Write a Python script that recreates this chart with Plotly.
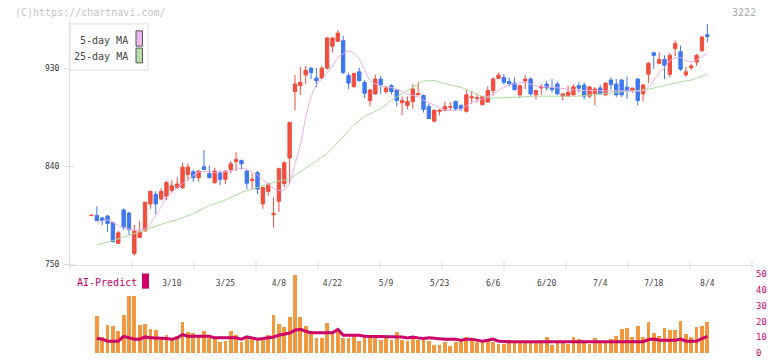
import plotly.graph_objects as go

# ---------------- data ----------------
tick_labels = ["3/10", "3/25", "4/8", "4/22", "5/9", "5/23", "6/6", "6/20", "7/4", "7/18", "8/4"]
tick_days = [15, 25, 35, 45, 55, 65, 75, 85, 95, 105, 115]
price_ticks = [750, 840, 930]
vol_ticks = [0, 10, 20, 30, 40, 50]

open_ = [795.0, 795.2, 792.8, 794.6, 788.5, 769.5, 800.2, 797.3, 760.0, 775.0,
         781.0, 805.7, 814.5, 810.2, 812.7, 818.0, 820.8, 820.8, 832.8, 835.3,
         829.8, 839.8, 833.5, 825.3, 834.4, 828.3, 837.3, 844.6, 845.5, 835.9,
         827.1, 834.4, 805.7, 817.2, 795.8, 808.1, 824.4, 847.9, 908.8, 914.2,
         924.2, 930.3, 921.2, 921.2, 930.3, 950.4, 954.9, 955.5, 923.6, 913.3,
         926.9, 917.3, 900.6, 906.7, 920.3, 908.8, 914.2, 910.3, 898.6, 896.1,
         899.7, 906.0, 905.2, 895.2, 881.7, 890.7, 891.6, 894.5, 899.7, 896.1,
         890.7, 903.0, 902.5, 896.8, 899.2, 909.7, 920.9, 921.8, 918.1, 916.6,
         905.8, 918.5, 920.3, 905.8, 912.2, 915.7, 912.2, 915.7, 904.6, 904.6,
         905.8, 914.2, 914.8, 904.6, 906.7, 912.2, 905.8, 919.4, 915.7, 919.4,
         912.8, 909.7, 920.3, 906.7, 924.8, 944.4, 934.7, 938.3, 924.8, 948.3,
         945.3, 924.2, 930.8, 935.9, 946.5, 961.0]
high = [795.6, 803.6, 794.0, 795.5, 789.5, 781.0, 801.5, 798.5, 786.4, 790.0,
        808.0, 818.0, 817.2, 820.2, 827.1, 827.4, 830.0, 843.4, 843.0, 837.1,
        836.5, 855.2, 840.7, 838.9, 836.4, 836.5, 845.0, 853.3, 846.4, 836.5,
        833.5, 835.9, 821.5, 825.3, 811.8, 839.0, 845.0, 881.0, 924.0, 931.4,
        932.3, 931.4, 930.8, 932.3, 959.0, 958.5, 965.5, 960.0, 926.3, 926.3,
        930.8, 919.4, 911.0, 924.2, 923.3, 914.2, 915.7, 911.0, 904.3, 904.3,
        915.7, 917.3, 906.0, 897.7, 892.5, 893.1, 899.7, 899.2, 900.6, 897.0,
        910.3, 909.7, 906.7, 905.0, 913.6, 922.0, 926.3, 924.8, 921.8, 921.8,
        915.0, 923.9, 922.0, 910.6, 915.7, 918.7, 920.3, 917.8, 907.0, 914.2,
        915.7, 917.3, 917.3, 913.6, 912.8, 915.0, 917.0, 921.8, 920.3, 920.3,
        922.7, 912.5, 921.0, 915.7, 935.9, 945.4, 944.9, 942.0, 944.4, 955.8,
        951.0, 931.4, 934.4, 943.5, 959.5, 970.9]
low = [794.6, 790.3, 786.0, 780.0, 770.2, 769.0, 782.2, 777.4, 758.4, 774.5,
       780.0, 801.2, 796.0, 809.0, 809.0, 816.0, 819.3, 819.3, 826.9, 826.0,
       826.2, 837.0, 829.0, 823.8, 822.9, 823.8, 833.7, 835.9, 837.3, 819.3,
       819.3, 814.7, 801.2, 813.3, 784.0, 798.2, 820.8, 824.4, 891.6, 905.7,
       915.7, 920.3, 912.7, 920.3, 929.0, 944.4, 954.3, 924.8, 911.2, 912.7,
       918.0, 902.8, 895.2, 906.0, 906.7, 906.7, 906.0, 895.2, 887.1, 892.5,
       893.1, 905.2, 889.5, 884.0, 880.2, 887.1, 891.0, 891.6, 891.6, 891.0,
       889.5, 897.7, 898.6, 896.1, 899.0, 905.2, 920.3, 915.1, 913.7, 909.7,
       902.8, 911.2, 905.2, 901.5, 905.8, 909.7, 908.0, 905.8, 900.6, 904.0,
       905.0, 908.0, 901.5, 903.0, 896.1, 905.8, 905.0, 910.6, 903.7, 903.7,
       902.0, 907.6, 896.1, 899.7, 916.6, 929.4, 933.8, 920.3, 921.8, 941.3,
       927.8, 922.3, 928.7, 932.3, 945.0, 954.0]
close = [795.3, 790.3, 790.6, 787.8, 771.1, 779.2, 784.0, 782.2, 781.0, 780.1,
         807.2, 817.2, 805.7, 817.2, 825.3, 822.3, 824.0, 839.5, 839.5, 829.8,
         835.9, 837.3, 829.8, 835.9, 828.3, 835.9, 842.5, 846.4, 842.5, 824.7,
         828.3, 819.3, 820.8, 823.8, 796.7, 838.0, 843.4, 880.5, 915.7, 917.3,
         928.4, 926.3, 918.7, 930.3, 958.0, 958.0, 962.5, 926.3, 916.6, 925.4,
         918.7, 907.3, 910.3, 920.3, 915.1, 912.2, 908.8, 900.6, 900.6, 899.7,
         911.2, 907.0, 892.5, 884.1, 891.6, 891.6, 895.2, 895.0, 893.1, 893.1,
         905.8, 904.0, 903.1, 904.3, 909.7, 920.3, 923.9, 917.3, 916.0, 910.6,
         914.2, 920.3, 906.7, 909.7, 913.1, 912.2, 910.6, 906.7, 906.7, 908.2,
         913.1, 911.9, 904.6, 913.1, 911.2, 906.7, 916.6, 915.1, 905.8, 905.8,
         909.7, 911.9, 900.6, 914.8, 934.7, 942.0, 938.3, 933.0, 942.0, 952.8,
         929.4, 926.9, 932.3, 942.0, 958.9, 959.4]

ma5_days = [1, 3, 5, 6, 8, 10, 11, 13, 14, 16, 17, 18, 20, 22, 23, 26, 28, 29, 31, 32,
            34, 35, 36, 37, 38, 39, 40, 41, 42, 43, 45, 46, 48, 49, 50, 51, 52, 54, 56, 58,
            59, 61, 62, 64, 66, 68, 69, 71, 73, 75, 77, 79, 81, 83, 84, 86, 91, 96, 100, 103,
            104, 105, 106, 107, 108, 109, 110, 111, 112, 113, 114, 115]
ma5_vals = [788, 791, 786, 784.5, 781.5, 783, 788, 803, 812, 820.5, 824.5, 828, 835, 835.5, 834.5, 836, 838.5, 837.5, 832, 828,
            820, 818, 818.5, 825, 842, 860, 885, 904, 915, 920, 932, 940, 946, 944, 938.5, 929, 919, 914, 912.5, 909,
            906.5, 904, 901, 896.5, 892, 891.5, 892.5, 899, 902, 906.7, 913, 916, 917, 914, 913.3, 912.8, 910, 909.5, 909.5, 909.5,
            913, 919, 926, 931, 937, 940, 940, 937, 936, 938, 941, 944]

ma25_days = [1, 4, 7, 10, 13, 16, 19, 22, 25, 28, 32, 35, 37, 39, 41, 43, 44, 46, 49, 51,
             54, 56, 58, 60, 61, 62, 64, 66, 69, 71, 73, 75, 78, 83, 91, 104, 107, 110, 112, 115]
ma25_vals = [768, 772, 777, 781.6, 787, 791.2, 796.7, 804.3, 809.3, 816.3, 822.3, 826.9, 828.3, 835, 842, 848, 852, 862, 878, 886,
             893, 901, 907, 913, 916, 918.5, 919, 916, 912.8, 908.2, 904.3, 902.8, 903.7, 904.6, 904.6, 911, 914.2, 917.9, 919.4, 924.8]

vol_days = list(range(1, 116))
volume = [23.1, 10.2, 17.5, 16.9, 13.8, 23.8, 35.8, 35.8, 17.5, 18.5,
          15.0, 14.4, 9.6, 11.3, 9.6, 10.6, 19.6, 12.9, 12.3, 11.3,
          13.8, 9.2, 9.2, 7.1, 7.5, 13.8, 11.3, 7.1, 9.2, 9.2,
          8.1, 9.2, 11.3, 23.8, 18.1, 16.5, 22.5, 49.4, 22.5, 16.9,
          13.8, 9.6, 9.6, 18.8, 13.3, 14.4, 9.6, 9.6, 10.6, 7.5,
          11.3, 11.3, 9.6, 8.1, 10.2, 8.1, 12.9, 8.1, 7.5, 9.6,
          8.1, 8.1, 7.5, 5.0, 5.0, 6.7, 4.6, 6.7, 8.1, 10.2,
          8.1, 6.7, 7.5, 8.1, 6.7, 5.6, 5.6, 8.1, 7.5, 7.5,
          7.5, 7.5, 7.5, 8.1, 10.2, 5.0, 7.1, 7.1, 5.6, 10.2,
          8.8, 7.5, 5.6, 9.2, 7.5, 7.5, 8.8, 10.8, 15.0, 15.8,
          10.2, 16.9, 10.2, 19.4, 12.7, 10.8, 15.8, 14.4, 14.4, 20.0,
          11.9, 10.2, 16.5, 17.1, 19.6]
ai_predict = [9.2, 8.8, 7.5, 7.5, 7.5, 10.6, 9.6, 8.8, 8.8, 10.2,
              9.6, 9.6, 9.6, 9.2, 8.8, 9.6, 11.7, 10.6, 10.6, 10.6,
              10.6, 10.6, 9.6, 9.6, 9.6, 9.6, 9.6, 8.8, 10.2, 9.6,
              8.8, 9.2, 9.6, 10.2, 11.3, 11.9, 12.7, 14.4, 15.0, 13.8,
              12.9, 12.9, 12.9, 12.9, 12.9, 15.0, 11.3, 11.3, 11.3, 11.3,
              10.6, 10.6, 10.6, 10.6, 10.6, 10.6, 10.6, 10.2, 9.6, 10.2,
              9.6, 9.2, 9.6, 9.2, 9.2, 8.8, 8.8, 8.8, 8.1, 8.8,
              8.8, 8.1, 7.5, 8.1, 8.8, 7.5, 7.1, 7.1, 7.1, 7.1,
              7.1, 7.1, 7.1, 7.1, 7.1, 7.1, 7.1, 7.1, 7.1, 7.1,
              7.1, 7.1, 7.1, 7.1, 7.1, 7.1, 7.1, 7.1, 7.1, 7.1,
              7.1, 7.1, 7.1, 8.5, 8.8, 8.1, 8.1, 8.1, 8.1, 8.8,
              7.5, 7.5, 7.5, 9.2, 10.6]

days = list(range(len(close)))

# ---------------- styling / layout helpers ----------------
W, H = 772, 361
ML, MR, MT, MB = 70, 20, 20, 3
PW, PH = W - ML - MR, H - MT - MB


def px(x):
    return (x - ML) / PW


def py(y):
    return (H - MB - y) / PH


UP, DOWN = "#f04e3e", "#3f78ee"
PINK, GREEN = "#e6aee6", "#addb9d"
ORANGE, CRIMSON = "#f2983e", "#cc0066"
MONO = "DejaVu Sans Mono"

fig = go.Figure()

fig.add_trace(go.Candlestick(
    x=days, open=open_, high=high, low=low, close=close,
    increasing=dict(line=dict(color=UP, width=1), fillcolor=UP),
    decreasing=dict(line=dict(color=DOWN, width=1), fillcolor=DOWN),
    whiskerwidth=0, showlegend=False, hoverinfo="skip",
    xaxis="x", yaxis="y"))

fig.add_trace(go.Scatter(x=ma25_days, y=ma25_vals, mode="lines",
                         line=dict(color=GREEN, width=1), showlegend=False,
                         xaxis="x", yaxis="y"))
fig.add_trace(go.Scatter(x=ma5_days, y=ma5_vals, mode="lines",
                         line=dict(color=PINK, width=1, shape="spline", smoothing=0.6),
                         showlegend=False, xaxis="x", yaxis="y"))

fig.add_trace(go.Bar(x=vol_days, y=volume, marker=dict(color=ORANGE, line=dict(width=0)),
                     width=0.7, showlegend=False, xaxis="x2", yaxis="y2"))
fig.add_trace(go.Scatter(x=vol_days, y=ai_predict, mode="lines",
                         line=dict(color=CRIMSON, width=3), showlegend=False,
                         xaxis="x2", yaxis="y2"))

xr = [(ML - 91.5) / 5.355, (W - MR - 91.5) / 5.355]

fig.update_layout(
    width=W, height=H,
    margin=dict(l=ML, r=MR, t=MT, b=MB),
    paper_bgcolor="white", plot_bgcolor="white",
    boxgap=0.1,
    bargap=0,
    font=dict(family=MONO, color="#444"),
    xaxis=dict(domain=[0, 1], range=xr, anchor="y", showgrid=False, zeroline=False,
               showline=True, linecolor="#dddddd", linewidth=1,
               tickmode="array", tickvals=tick_days, ticktext=tick_labels,
               ticks="", tickfont=dict(family=MONO, size=8, color="#444"),
               ticklabelstandoff=11,
               rangeslider=dict(visible=False), fixedrange=True),
    yaxis=dict(domain=[py(268.3), 1], range=[750, 750 + (268.3 - MT) / 1.106],
               showgrid=False, zeroline=False, showline=True, linecolor="#dddddd",
               tickmode="array", tickvals=price_ticks, ticks="outside",
               ticklen=5, tickcolor="#dddddd", ticklabelstandoff=3,
               tickfont=dict(family=MONO, size=8, color="#333")),
    xaxis2=dict(domain=[0, 1], range=xr, anchor="y2", matches="x", showgrid=False,
                zeroline=False, showline=False, showticklabels=False, ticks=""),
    yaxis2=dict(domain=[0, py(275)], range=[0, (H - MB - 275) / 1.6], side="right",
                anchor="x2", showgrid=False, zeroline=False, showline=False,
                tickmode="array", tickvals=vol_ticks, ticks="", ticklabelstandoff=3,
                tickfont=dict(family=MONO, size=9, color=CRIMSON)),
)

# axis separator tick marks
for k in range(12):
    fig.add_shape(type="line", xref="paper", yref="paper", x0=k / 11, x1=k / 11,
                  y0=py(264.5), y1=py(273), line=dict(color="#dddddd", width=1))
# inner part of price ticks (they cross the axis line)
for v in price_ticks:
    fig.add_shape(type="line", xref="paper", yref="y", x0=0, x1=px(74),
                  y0=v, y1=v, line=dict(color="#dddddd", width=1))

# legend box
fig.add_shape(type="rect", xref="paper", yref="paper", x0=px(70), x1=px(148),
              y0=py(71), y1=py(24), line=dict(color="#dddddd", width=1),
              fillcolor="white", layer="above")
fig.add_shape(type="rect", xref="paper", yref="paper", x0=px(136), x1=px(142.5),
              y0=py(46.5), y1=py(31), line=dict(color="#555555", width=1),
              fillcolor="#eab8ea", layer="above")
fig.add_shape(type="rect", xref="paper", yref="paper", x0=px(136), x1=px(142.5),
              y0=py(63.5), y1=py(48.5), line=dict(color="#555555", width=1),
              fillcolor="#b8dcaa", layer="above")
fig.add_annotation(text="5-day MA", xref="paper", yref="paper", x=px(130), y=py(40.5),
                   xanchor="right", yanchor="middle", showarrow=False,
                   font=dict(family=MONO, size=10, color="#444"))
fig.add_annotation(text="25-day MA", xref="paper", yref="paper", x=px(130), y=py(57),
                   xanchor="right", yanchor="middle", showarrow=False,
                   font=dict(family=MONO, size=10, color="#444"))

# header texts
fig.add_annotation(text="(C)https://chartnavi.com/", xref="paper", yref="paper",
                   x=px(13), y=py(12.5), xanchor="left", yanchor="middle", showarrow=False,
                   font=dict(family=MONO, size=10, color="#c4c4c4"))
fig.add_annotation(text="3222", xref="paper", yref="paper",
                   x=px(758), y=py(12.5), xanchor="right", yanchor="middle", showarrow=False,
                   font=dict(family=MONO, size=10, color="#aaaaaa"))

# AI-Predict label
fig.add_annotation(text="AI-Predict", xref="paper", yref="paper",
                   x=px(75), y=py(286), xanchor="left", yanchor="middle", showarrow=False,
                   font=dict(family=MONO, size=10, color=CRIMSON))
fig.add_shape(type="rect", xref="paper", yref="paper", x0=px(142), x1=px(149),
              y0=py(292.7), y1=py(277.3), line=dict(width=0), fillcolor=CRIMSON)

fig.write_html("out.html", config={"displayModeBar": False},
               post_script="document.body.style.margin='0';document.body.style.overflow='hidden';")
